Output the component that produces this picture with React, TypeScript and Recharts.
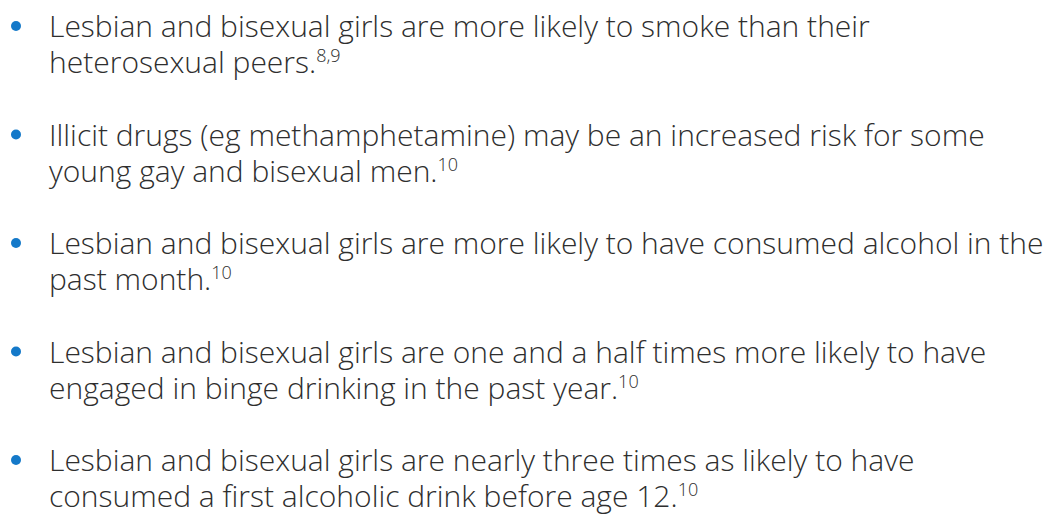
import { Scatter, ScatterChart, XAxis, YAxis } from "recharts";

const bulletLines: string[][] = [
  ["Lesbian and bisexual girls are more likely to smoke than their", "heterosexual peers."],
  ["Illicit drugs (eg methamphetamine) may be an increased risk for some", "young gay and bisexual men."],
  ["Lesbian and bisexual girls are more likely to have consumed alcohol in the", "past month."],
  ["Lesbian and bisexual girls are one and a half times more likely to have", "engaged in binge drinking in the past year."],
  ["Lesbian and bisexual girls are nearly three times as likely to have", "consumed a first alcoholic drink before age 12."],
];
const bulletRefs = ["8,9", "10", "10", "10", "10"];

const data = bulletLines.map((lines, i) => ({ x: 0, y: i, lines, ref: bulletRefs[i] }));

const TEXT = "#2e2e2e";
const BLUE = "#1479c9";
const FONT = "'Open Sans', sans-serif";

function BulletItem(props: any) {
  const { cx, cy, payload } = props;
  const tx = cx + 33;
  return (
    <g>
      <circle cx={cx} cy={cy} r={5} fill={BLUE} />
      <text x={tx} y={cy + 11} fill={TEXT} fontSize={30} fontWeight={300} fontFamily={FONT}>
        {payload.lines[0]}
      </text>
      <text x={tx} y={cy + 47} fill={TEXT} fontSize={30} fontWeight={300} fontFamily={FONT}>
        {payload.lines[1]}
        <tspan dy={-11} fontSize={18}>
          {payload.ref}
        </tspan>
      </text>
    </g>
  );
}

export default function App() {
  return (
    <div style={{ width: 1053, height: 515, background: "#fff" }}>
      <style>{`body{margin:0}`}</style>
      <ScatterChart width={1053} height={515} margin={{ top: 26, right: 0, bottom: 55, left: 16 }}>
        <XAxis type="number" dataKey="x" domain={[0, 1]} hide />
        <YAxis type="number" dataKey="y" domain={[0, 4]} reversed hide />
        <Scatter data={data} shape={BulletItem} isAnimationActive={false} />
      </ScatterChart>
    </div>
  );
}
